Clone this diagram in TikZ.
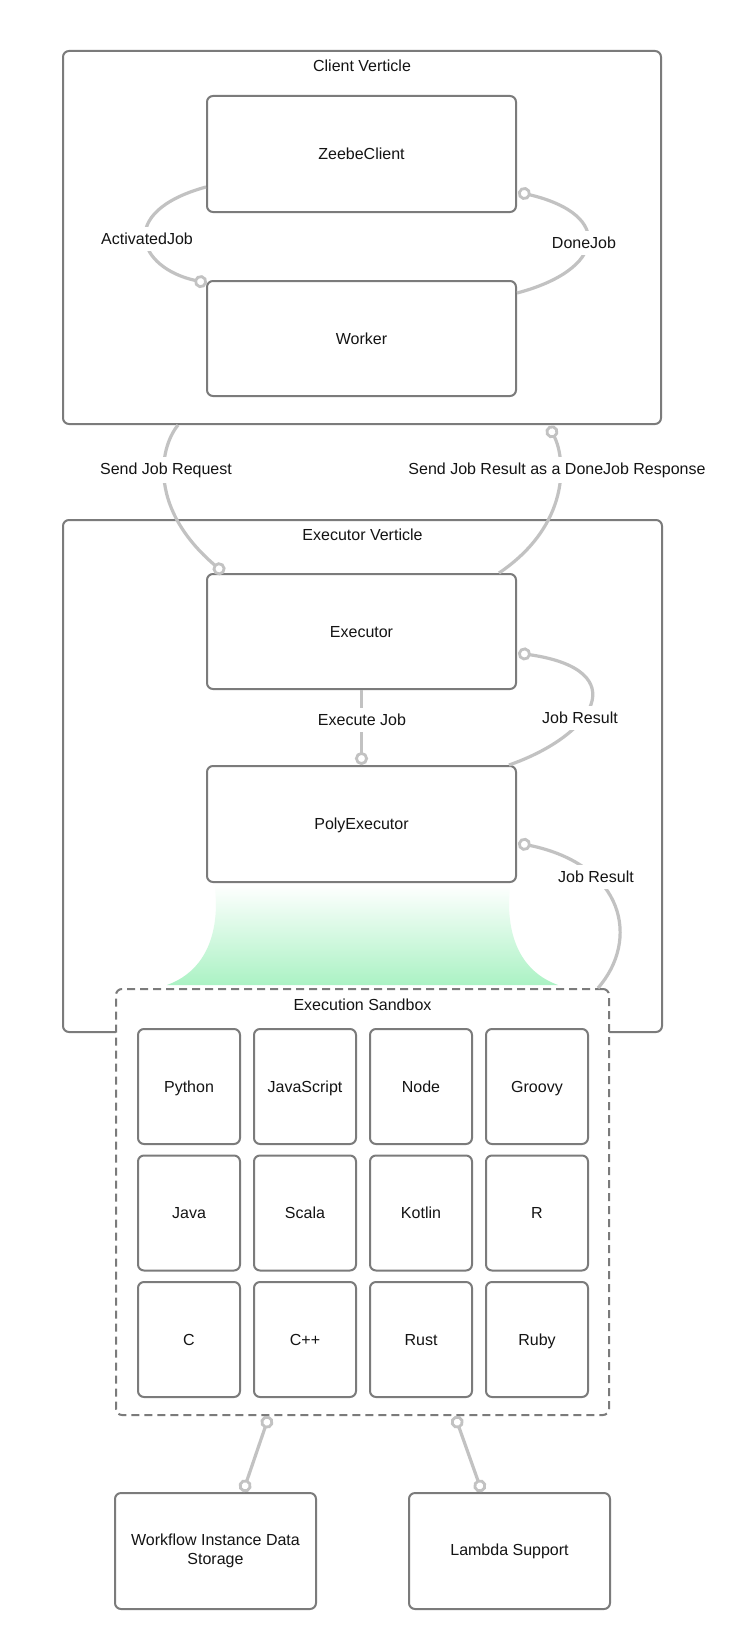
\documentclass[tikz,border=0pt]{standalone}
\usepackage{fontspec}
\setmainfont{Liberation Sans}
\usetikzlibrary{arrows.meta,calc}
\definecolor{boxgray}{HTML}{7B7B7B}
\definecolor{linkgray}{HTML}{C2C2C2}
\definecolor{txt}{HTML}{141414}
\definecolor{mint}{HTML}{ABF2C4}
\tikzset{
  box/.style={draw=boxgray, line width=2pt, rounded corners=6pt, fill=white, inner sep=0pt, align=center, text=txt},
  inner/.style={box, minimum width=309pt, minimum height=116pt, text height=11.5pt, text depth=0pt},
  lang/.style={box, minimum width=102pt, minimum height=115pt, text height=11.5pt, text depth=0pt},
  outbox/.style={box, minimum width=201pt, minimum height=116pt},
  sandboxstyle/.style={box, dash pattern=on 8pt off 5pt},
  link/.style={draw=linkgray, line width=3.2pt},
  lbl/.style={fill=white, inner sep=6pt, text=txt},
  ttl/.style={text=txt, inner sep=0pt},
  ctip/.tip={Circle[length=13pt, width=13pt, line width=2.8pt, fill=white]}
}
\begin{document}
\begin{tikzpicture}[x=1pt, y=-1pt, font=\fontsize{16}{19}\selectfont]
\fill[white] (0,0) rectangle (736,1648);
\useasboundingbox (0,0) rectangle (736,1648);

% Client Verticle
\node[box, minimum width=598pt, minimum height=373pt] (client) at (362,237.5) {};
\node[ttl] (clientT) at ($(client.north)+(0,16)$) {Client Verticle};
\node[inner] (zeebe) at (361.5,154) {ZeebeClient};
\node[inner, minimum height=115pt] (worker) at (361.5,338.5) {Worker};

% Executor Verticle
\node[box, minimum width=599pt, minimum height=512pt] (execv) at (362.5,776) {};
\node[ttl] (execvT) at ($(execv.north)+(0,16)$) {Executor Verticle};
\node[inner, minimum height=115pt] (executor) at (361.5,631.5) {Executor};
\node[inner] (poly) at (361.5,824) {PolyExecutor};

% gradient funnel
\shade[top color=white, bottom color=mint]
  ($(poly.south west)+(9,1)$) -- (216,903) .. controls (216,950) and (195,975) .. (167,985)
  -- (558,985) .. controls (530,975) and (509,950) .. (509,903) -- ($(poly.south east)+(-7,1)$) -- cycle;

% Execution Sandbox
\node[sandboxstyle, minimum width=493pt, minimum height=426pt] (sandbox) at (362.5,1202) {};
\node[ttl] (sandboxT) at ($(sandbox.north)+(0,17)$) {Execution Sandbox};

\node[lang] (python) at (189,1086.5) {Python};
\node[lang] (js)     at (305,1086.5) {JavaScript};
\node[lang] (nodejs) at (421,1086.5) {Node};
\node[lang] (groovy) at (537,1086.5) {Groovy};
\node[lang] (java)   at (189,1213) {Java};
\node[lang] (scala)  at (305,1213) {Scala};
\node[lang] (kotlin) at (421,1213) {Kotlin};
\node[lang] (rlang)  at (537,1213) {R};
\node[lang] (clang)  at (189,1339.5) {C};
\node[lang] (cpp)    at (305,1339.5) {C++};
\node[lang] (rust)   at (421,1339.5) {Rust};
\node[lang] (ruby)   at (537,1339.5) {Ruby};

% bottom boxes
\node[outbox] (workflow) at (215.5,1551) {Workflow Instance Data\\Storage};
\node[outbox] (lambda) at (509.5,1551) {Lambda Support};

% connectors
\draw[link, -{ctip}] ($(zeebe.west)+(0,33)$) .. controls (115,212) and (138,268) .. ($(worker.north west)+(1,3)$);
\draw[link, -{ctip}] ($(worker.east)+(0,-45.5)$) .. controls (605,270) and (615,215) .. ($(zeebe.east)+(1,38)$);
\draw[link, -{ctip}] ($(client.south)+(-184,0)$) .. controls (158,450) and (150,510) .. ($(executor.north west)+(18,0)$);
\draw[link, -{ctip}] ($(executor.north east)+(-18,0)$) .. controls (570,525) and (566,460) .. ($(client.south)+(187,1)$);
\draw[link, -{ctip}] (executor.south) -- (poly.north);
\draw[link, -{ctip}] ($(poly.north east)+(-8,0)$) .. controls (595,735) and (635,670) .. ($(executor.east)+(1,21.5)$);
\draw[link, -{ctip}] ($(sandbox.north east)+(-12,0)$) .. controls (640,940) and (625,865) .. ($(poly.east)+(1,19)$);
\draw[link, {ctip}-{ctip}] ($(sandbox.south)+(-93.5,0)$) -- ($(workflow.north)+(27.5,0)$);
\draw[link, {ctip}-{ctip}] ($(sandbox.south)+(92.5,0)$) -- ($(lambda.north)+(-27.5,0)$);

% labels
\node[lbl] (ajL) at (147,239) {ActivatedJob};
\node[lbl] (djL) at (584,243) {DoneJob};
\node[lbl] (sjrL) at (166,470) {Send Job Request};
\node[lbl] (sjresL) at (557,470) {Send Job Result as a DoneJob Response};
\node[lbl] (ejL) at (362,720) {Execute Job};
\node[lbl] (jr1L) at (580,718) {Job Result};
\node[lbl] (jr2L) at (596,877) {Job Result};
\end{tikzpicture}
\end{document}
